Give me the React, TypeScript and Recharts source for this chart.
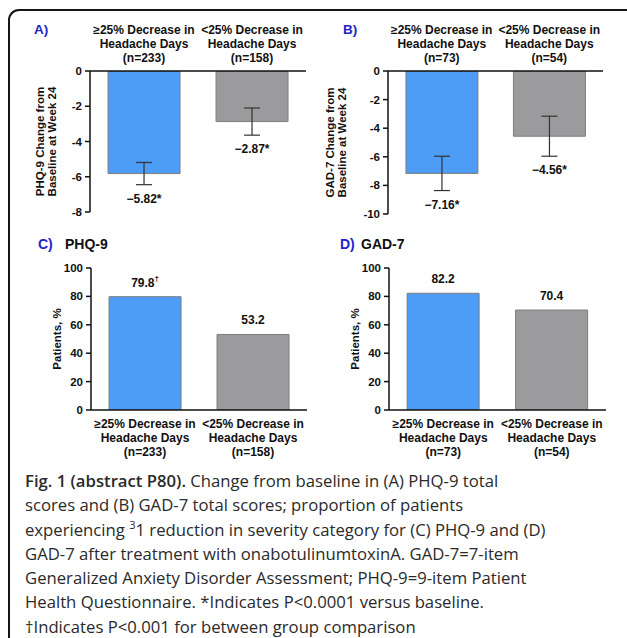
import React from 'react';
import { BarChart, Bar, XAxis, YAxis, ErrorBar, Cell, LabelList } from 'recharts';

// categories
const groupNames = ['ge25', 'lt25'];
const groupLine1 = ['≥25% Decrease in', '<25% Decrease in'];
const groupLine2 = ['Headache Days', 'Headache Days'];
const phqN = ['(n=233)', '(n=158)'];
const gadN = ['(n=73)', '(n=54)'];

// A) PHQ-9 change from baseline
const phqChange = [-5.82, -2.87];
const phqChangeErr = [0.63, 0.77];
// B) GAD-7 change from baseline
const gadChange = [-7.16, -4.56];
const gadChangeErr = [1.2, 1.4];
const changeMarks = ['*', '*'];

// C) / D) patients with >=1 category reduction
const phqPct = [79.8, 53.2];
const phqPctMarks = ['†', ''];
const gadPct = [82.2, 70.4];
const gadPctMarks = ['', ''];

const ticksA = [0, -2, -4, -6, -8];
const ticksB = [0, -2, -4, -6, -8, -10];
const ticksPct = [0, 20, 40, 60, 80, 100];

const barColors = ['#4d9cf6', '#9b9b9d'];
const FONT = '"Liberation Sans", Arial, Helvetica, sans-serif';

const buildRows = (vals: number[], errs: number[] | null, marks: string[], ns: string[]) =>
  groupNames.map((name, i) => ({
    name,
    value: vals[i],
    err: errs ? errs[i] : 0,
    mark: marks[i],
    lines: [groupLine1[i], groupLine2[i], ns[i]],
  }));

const fmtMinus = (v: number) => (v < 0 ? '\u2212' + Math.abs(v).toFixed(2) : v.toFixed(2));

function CategoryTick(props: any) {
  const { x, y, payload, rows, side } = props;
  const row = rows.find((r: any) => r.name === payload.value);
  if (!row) return null;
  const offs = side === 'top' ? [-41, -27, -13] : [14, 28, 42];
  return (
    <g>
      {row.lines.map((t: string, i: number) => (
        <text key={i} x={x} y={y + offs[i]} textAnchor="middle" dominantBaseline="central"
          fontFamily={FONT} fontWeight="bold" fontSize={12} fill="#111">{t}</text>
      ))}
    </g>
  );
}

function YTitle(props: any) {
  const { viewBox, lines, offsets } = props;
  if (!viewBox) return null;
  const axisX = viewBox.x + viewBox.width;
  const cy = viewBox.y + viewBox.height / 2;
  return (
    <g>
      {lines.map((t: string, i: number) => (
        <text key={i} x={axisX + offsets[i]} y={cy} transform={`rotate(-90, ${axisX + offsets[i]}, ${cy})`}
          textAnchor="middle" dominantBaseline="central" fontFamily={FONT} fontWeight="bold"
          fontSize={11.5} fill="#111">{t}</text>
      ))}
    </g>
  );
}

type PanelProps = {
  left: number; top: number; width: number; height: number;
  margin: { top: number; right: number; bottom: number; left: number };
  rows: any[]; domain: [number, number]; ticks: number[];
  side: 'top' | 'bottom'; xHeight: number;
  yLines: string[]; yOffsets: number[]; change: boolean;
};

function Panel(p: PanelProps) {
  const renderChangeLabel = (lp: any) => {
    const row = p.rows[lp.index];
    const h = Number(lp.height);
    const y = Number(lp.y);
    const bottom = Math.max(y, y + h);
    const ppu = Math.abs(h) / Math.abs(row.value);
    const cy = bottom + row.err * ppu + 14;
    return (
      <text x={Number(lp.x) + Number(lp.width) / 2} y={cy} textAnchor="middle" dominantBaseline="central"
        fontFamily={FONT} fontWeight="bold" fontSize={12} fill="#111">
        {fmtMinus(row.value) + row.mark}
      </text>
    );
  };
  const renderPctLabel = (lp: any) => {
    const row = p.rows[lp.index];
    const h = Number(lp.height);
    const y = Number(lp.y);
    const topY = Math.min(y, y + h);
    return (
      <text x={Number(lp.x) + Number(lp.width) / 2} y={topY - 14} textAnchor="middle" dominantBaseline="central"
        fontFamily={FONT} fontWeight="bold" fontSize={12} fill="#111">
        {row.value.toFixed(1)}
        {row.mark ? <tspan fontSize={8} dy={-5}>{row.mark}</tspan> : null}
      </text>
    );
  };
  return (
    <div style={{ position: 'absolute', left: p.left, top: p.top }}>
      <BarChart width={p.width} height={p.height} data={p.rows} margin={p.margin} barCategoryGap="16.7%">
        <XAxis dataKey="name" orientation={p.side} height={p.xHeight} tickSize={0} tickMargin={0}
          tickLine={false} interval={0} axisLine={{ stroke: '#111', strokeWidth: 1.5 }}
          tick={<CategoryTick rows={p.rows} side={p.side} />} />
        <YAxis width={70} domain={p.domain} ticks={p.ticks} interval={0} tickSize={5} tickMargin={3}
          allowDataOverflow axisLine={{ stroke: '#111', strokeWidth: 1.5 }}
          tickLine={{ stroke: '#111', strokeWidth: 1.5 }}
          tick={{ fontFamily: FONT, fontWeight: 'bold', fontSize: 11.5, fill: '#111' }}
          label={<YTitle lines={p.yLines} offsets={p.yOffsets} />} />
        <Bar dataKey="value" isAnimationActive={false} stroke="#7d7d7d" strokeWidth={1}>
          {p.rows.map((r, i) => <Cell key={r.name} fill={barColors[i]} />)}
          {p.change ? (
            <ErrorBar dataKey="err" width={8} stroke="#333" strokeWidth={1.2} direction="y" isAnimationActive={false} />
          ) : null}
          <LabelList dataKey="value" content={p.change ? renderChangeLabel : renderPctLabel} />
        </Bar>
      </BarChart>
    </div>
  );
}

const tag = (text: string, left: number, top: number, color: string, size: number) => (
  <div style={{ position: 'absolute', left, top, fontFamily: FONT, fontWeight: 'bold', fontSize: size, color, lineHeight: 1, whiteSpace: 'nowrap' }}>{text}</div>
);

export default function App() {
  const rowsA = buildRows(phqChange, phqChangeErr, changeMarks, phqN);
  const rowsB = buildRows(gadChange, gadChangeErr, changeMarks, gadN);
  const rowsC = buildRows(phqPct, null, phqPctMarks, phqN);
  const rowsD = buildRows(gadPct, null, gadPctMarks, gadN);
  const blue = '#2323c8';
  return (
    <div style={{ position: 'absolute', left: 0, top: 0, width: 627, height: 638, overflow: 'hidden', background: '#fff' }}>
      <div style={{ position: 'absolute', left: 8, top: 9, width: 700, height: 700, borderTop: '2px solid #151515', borderLeft: '2px solid #151515', borderTopLeftRadius: 11 }} />

      <Panel left={20} top={0} width={300} height={225} margin={{ top: 5, right: 14, bottom: 13, left: 0 }}
        rows={rowsA} domain={[-8, 0]} ticks={ticksA} side="top" xHeight={66}
        yLines={['PHQ-9 Change from', 'Baseline at Week 24']} yOffsets={[-50, -38]} change />
      <Panel left={318} top={0} width={300} height={225} margin={{ top: 5, right: 15, bottom: 11, left: 0 }}
        rows={rowsB} domain={[-10, 0]} ticks={ticksB} side="top" xHeight={66}
        yLines={['GAD-7 Change from', 'Baseline at Week 24']} yOffsets={[-58, -46]} change />
      <Panel left={21} top={225} width={300} height={235} margin={{ top: 43, right: 14, bottom: 5, left: 0 }}
        rows={rowsC} domain={[0, 100]} ticks={ticksPct} side="bottom" xHeight={45}
        yLines={['Patients, %']} yOffsets={[-34]} change={false} />
      <Panel left={319} top={225} width={300} height={235} margin={{ top: 43, right: 13, bottom: 5, left: 0 }}
        rows={rowsD} domain={[0, 100]} ticks={ticksPct} side="bottom" xHeight={45}
        yLines={['Patients, %']} yOffsets={[-34]} change={false} />

      {tag('A)', 34, 23, blue, 13.5)}
      {tag('B)', 343, 23, blue, 13.5)}
      {tag('C)', 38, 237, blue, 14)}
      {tag('PHQ-9', 65, 237, '#111', 14)}
      {tag('D)', 340, 237, blue, 14)}
      {tag('GAD-7', 361, 237, '#111', 14)}

      <div style={{ position: 'absolute', left: 25, top: 469, fontFamily: '"Open Sans", "Noto Sans", sans-serif', fontSize: 16.7, lineHeight: '24.3px', color: '#2a2a2a', whiteSpace: 'nowrap' }}>
        <span style={{ fontWeight: 600 }}>Fig. 1 (abstract P80).</span> Change from baseline in (A) PHQ-9 total<br />
        scores and (B) GAD-7 total scores; proportion of patients<br />
        experiencing <sup style={{ fontSize: 11, lineHeight: 0 }}>3</sup>1 reduction in severity category for (C) PHQ-9 and (D)<br />
        GAD-7 after treatment with onabotulinumtoxinA. GAD-7=7-item<br />
        Generalized Anxiety Disorder Assessment; PHQ-9=9-item Patient<br />
        Health Questionnaire. *Indicates P&lt;0.0001 versus baseline.<br />
        †Indicates P&lt;0.001 for between group comparison
      </div>
    </div>
  );
}
